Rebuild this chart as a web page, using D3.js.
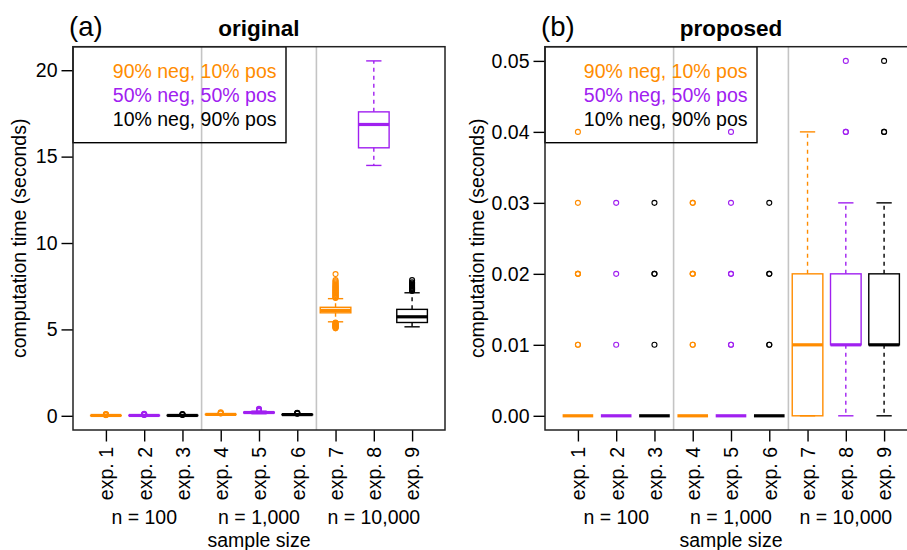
<!DOCTYPE html>
<html>
<head>
<meta charset="utf-8">
<script src="https://cdn.jsdelivr.net/npm/d3@7"></script>
<style>
  body { margin: 0; background: #fff; }
  svg { display: block; font-family: "Liberation Sans", Arial, Helvetica, sans-serif; }
</style>
</head>
<body>
<div id="chart"></div>
<script>
// ---- data ----
var experiments = ["exp. 1", "exp. 2", "exp. 3", "exp. 4", "exp. 5", "exp. 6", "exp. 7", "exp. 8", "exp. 9"];
var sampleSizes = ["n = 100", "n = 1,000", "n = 10,000"];
var legendLabels = ["90% neg, 10% pos", "50% neg, 50% pos", "10% neg, 90% pos"];
var seriesOfExp = [0, 1, 2, 0, 1, 2, 0, 1, 2];

var origTicks = [0, 5, 10, 15, 20];
var origLow    = [0.00, 0.00, 0.00, 0.05, 0.12, 0.04, 5.44, 14.49, 5.15];
var origQ1     = [0.01, 0.01, 0.01, 0.07, 0.17, 0.06, 5.96, 15.51, 5.40];
var origMedian = [0.02, 0.02, 0.02, 0.08, 0.19, 0.07, 6.10, 16.86, 5.73];
var origQ3     = [0.02, 0.03, 0.03, 0.09, 0.21, 0.08, 6.28, 17.59, 6.16];
var origHigh   = [0.03, 0.04, 0.04, 0.12, 0.27, 0.11, 6.78, 20.54, 7.12];
var origOutliers = [
  [0.04, 0.05, 0.06, 0.08, 0.10],
  [0.05, 0.06, 0.07, 0.09, 0.11],
  [0.05, 0.06, 0.08, 0.10],
  [0.13, 0.15, 0.17, 0.20],
  [0.28, 0.30, 0.33, 0.36, 0.40],
  [0.12, 0.14, 0.16, 0.18],
  [5.06, 5.09, 5.12, 5.15, 5.18, 5.21, 5.24, 5.27, 5.30, 5.33, 5.36, 5.39,
   6.82, 6.85, 6.88, 6.92, 6.95, 6.99, 7.02, 7.06, 7.09, 7.13, 7.17, 7.20, 7.24,
   7.28, 7.31, 7.35, 7.39, 7.43, 7.47, 7.51, 7.56, 7.61, 7.66, 7.72, 7.79, 7.85, 8.20],
  [],
  [7.22, 7.28, 7.33, 7.38, 7.42, 7.47, 7.52, 7.58, 7.65, 7.72, 7.85]
];

var propTicks = [0, 0.01, 0.02, 0.03, 0.04, 0.05];
var propLow    = [0, 0, 0, 0, 0, 0, 0, 0, 0];
var propQ1     = [0, 0, 0, 0, 0, 0, 0, 0.01, 0.01];
var propMedian = [0, 0, 0, 0, 0, 0, 0.01, 0.01, 0.01];
var propQ3     = [0, 0, 0, 0, 0, 0, 0.02, 0.02, 0.02];
var propHigh   = [0, 0, 0, 0, 0, 0, 0.04, 0.03, 0.03];
var propOutliers = [
  [0.01, 0.01, 0.02, 0.02, 0.02, 0.03, 0.04],
  [0.01, 0.02, 0.03],
  [0.01, 0.02, 0.02, 0.03],
  [0.01, 0.01, 0.02, 0.02, 0.02, 0.03, 0.03],
  [0.01, 0.01, 0.02, 0.02, 0.03, 0.04],
  [0.01, 0.01, 0.02, 0.02, 0.03],
  [],
  [0.04, 0.04, 0.05],
  [0.04, 0.04, 0.05]
];

// ---- style ----
var colors = ["#FF8C00", "#A020F0", "#000000"];
var fontSize = 19.5;

var svg = d3.select("#chart").append("svg")
    .attr("width", 907)
    .attr("height", 550);

function rPad(lo, hi) {
    var d = (hi - lo) * 0.04;
    return [lo - d, hi + d];
}

function drawPanel(p) {
    var vis = {};
    vis.left = p.left;
    vis.top = 46.7;
    vis.width = 372;
    vis.bottom = 430;

    vis.x = d3.scaleLinear()
        .domain(rPad(0.5, experiments.length + 0.5))
        .range([vis.left, vis.left + vis.width]);

    var all = [].concat(p.low, p.high, d3.merge(p.outliers));
    vis.y = d3.scaleLinear()
        .domain(rPad(d3.min(all), d3.max(all)))
        .range([vis.bottom, vis.top]);

    var g = svg.append("g");

    // group separators
    g.selectAll("line.sep")
        .data([3.5, 6.5])
        .enter().append("line")
        .attr("class", "sep")
        .attr("x1", function (d) { return vis.x(d); })
        .attr("x2", function (d) { return vis.x(d); })
        .attr("y1", vis.top)
        .attr("y2", vis.bottom)
        .attr("stroke", "#c4c4c4")
        .attr("stroke-width", 1.6);

    var bw = vis.x(0.8) - vis.x(0);
    var boxes = g.selectAll("g.box")
        .data(experiments)
        .enter().append("g")
        .attr("class", "box")
        .attr("transform", function (d, i) { return "translate(" + vis.x(i + 1) + ",0)"; });

    boxes.each(function (d, i) {
        var b = d3.select(this);
        var col = colors[seriesOfExp[i]];
        // whiskers
        [[p.q3[i], p.high[i]], [p.q1[i], p.low[i]]].forEach(function (w) {
            b.append("line")
                .attr("x1", 0).attr("x2", 0)
                .attr("y1", vis.y(w[0])).attr("y2", vis.y(w[1]))
                .attr("stroke", col).attr("stroke-width", 1.4)
                .attr("stroke-dasharray", "4,4");
            b.append("line")
                .attr("x1", -bw / 4).attr("x2", bw / 4)
                .attr("y1", vis.y(w[1])).attr("y2", vis.y(w[1]))
                .attr("stroke", col).attr("stroke-width", 1.4);
        });
        b.append("rect")
            .attr("x", -bw / 2)
            .attr("width", bw)
            .attr("y", vis.y(p.q3[i]))
            .attr("height", Math.max(0, vis.y(p.q1[i]) - vis.y(p.q3[i])))
            .attr("fill", "none")
            .attr("stroke", col)
            .attr("stroke-width", 1.4);
        b.append("line")
            .attr("x1", -bw / 2).attr("x2", bw / 2)
            .attr("y1", vis.y(p.median[i])).attr("y2", vis.y(p.median[i]))
            .attr("stroke", col).attr("stroke-width", 3.2);
        b.selectAll("circle")
            .data(p.outliers[i])
            .enter().append("circle")
            .attr("cx", 0)
            .attr("cy", function (v) { return vis.y(v); })
            .attr("r", 2.5)
            .attr("fill", "none")
            .attr("stroke", col)
            .attr("stroke-width", 1.1);
    });

    // legend
    g.append("rect")
        .attr("x", vis.left)
        .attr("y", vis.top)
        .attr("width", p.legendWidth)
        .attr("height", 96)
        .attr("fill", "none")
        .attr("stroke", "#000")
        .attr("stroke-width", 1.4);
    g.selectAll("text.leg")
        .data(legendLabels)
        .enter().append("text")
        .attr("class", "leg")
        .attr("x", vis.left + p.legendWidth - 9.5)
        .attr("y", function (d, i) { return 78.3 + i * 24; })
        .attr("text-anchor", "end")
        .attr("font-size", fontSize)
        .attr("fill", function (d, i) { return colors[i]; })
        .text(function (d) { return d; });

    // y axis
    var yAxis = d3.axisLeft(vis.y)
        .tickValues(p.ticks)
        .tickFormat(p.format)
        .tickSizeOuter(0)
        .tickSize(11.5)
        .tickPadding(4);
    var ya = g.append("g")
        .attr("transform", "translate(" + vis.left + ",0)")
        .call(yAxis);
    ya.select(".domain").remove();
    ya.selectAll("line").attr("stroke-width", 1.4);
    ya.selectAll("text").attr("font-size", fontSize).attr("font-family", null).attr("fill", "#000");

    // x axis
    var xAxis = d3.axisBottom(vis.x)
        .tickValues(d3.range(1, experiments.length + 1))
        .tickFormat(function (d) { return experiments[d - 1]; })
        .tickSizeOuter(0)
        .tickSize(11.5);
    var xa = g.append("g")
        .attr("transform", "translate(0," + vis.bottom + ")")
        .call(xAxis);
    xa.select(".domain").remove();
    xa.selectAll("line").attr("stroke-width", 1.4);
    xa.selectAll("text")
        .attr("font-size", fontSize)
        .attr("font-family", null)
        .attr("fill", "#000")
        .attr("y", 0)
        .attr("x", -17)
        .attr("dy", "0.35em")
        .attr("transform", "rotate(-90)")
        .style("text-anchor", "end");

    g.selectAll("text.grp")
        .data(sampleSizes)
        .enter().append("text")
        .attr("class", "grp")
        .attr("x", function (d, i) { return vis.x(i * 3 + 2); })
        .attr("y", 524)
        .attr("text-anchor", "middle")
        .attr("font-size", fontSize)
        .text(function (d) { return d; });

    g.append("text")
        .attr("x", vis.left + vis.width / 2)
        .attr("y", 547)
        .attr("text-anchor", "middle")
        .attr("font-size", fontSize)
        .text("sample size");

    g.append("text")
        .attr("transform", "translate(" + p.yLabelX + "," + ((vis.top + vis.bottom) / 2) + ") rotate(-90)")
        .attr("dy", "0.35em")
        .attr("text-anchor", "middle")
        .attr("font-size", fontSize)
        .text("computation time (seconds)");

    // frame
    g.append("rect")
        .attr("x", vis.left)
        .attr("y", vis.top)
        .attr("width", vis.width)
        .attr("height", vis.bottom - vis.top)
        .attr("fill", "none")
        .attr("stroke", "#222")
        .attr("stroke-width", 1.5);

    // titles
    g.append("text")
        .attr("x", vis.left + vis.width / 2)
        .attr("y", 36)
        .attr("text-anchor", "middle")
        .attr("font-size", 22.5)
        .attr("font-weight", "bold")
        .text(p.title);
    g.append("text")
        .attr("x", p.tagX)
        .attr("y", 36)
        .attr("font-size", 27.5)
        .text(p.tag);
}

drawPanel({
    left: 73, title: "original", tag: "(a)", tagX: 69, yLabelX: 19,
    legendWidth: 213,
    ticks: origTicks, format: d3.format("d"),
    low: origLow, q1: origQ1, median: origMedian, q3: origQ3, high: origHigh, outliers: origOutliers
});

drawPanel({
    left: 545, title: "proposed", tag: "(b)", tagX: 541, yLabelX: 477,
    legendWidth: 212,
    ticks: propTicks, format: d3.format(".2f"),
    low: propLow, q1: propQ1, median: propMedian, q3: propQ3, high: propHigh, outliers: propOutliers
});
</script>
</body>
</html>
